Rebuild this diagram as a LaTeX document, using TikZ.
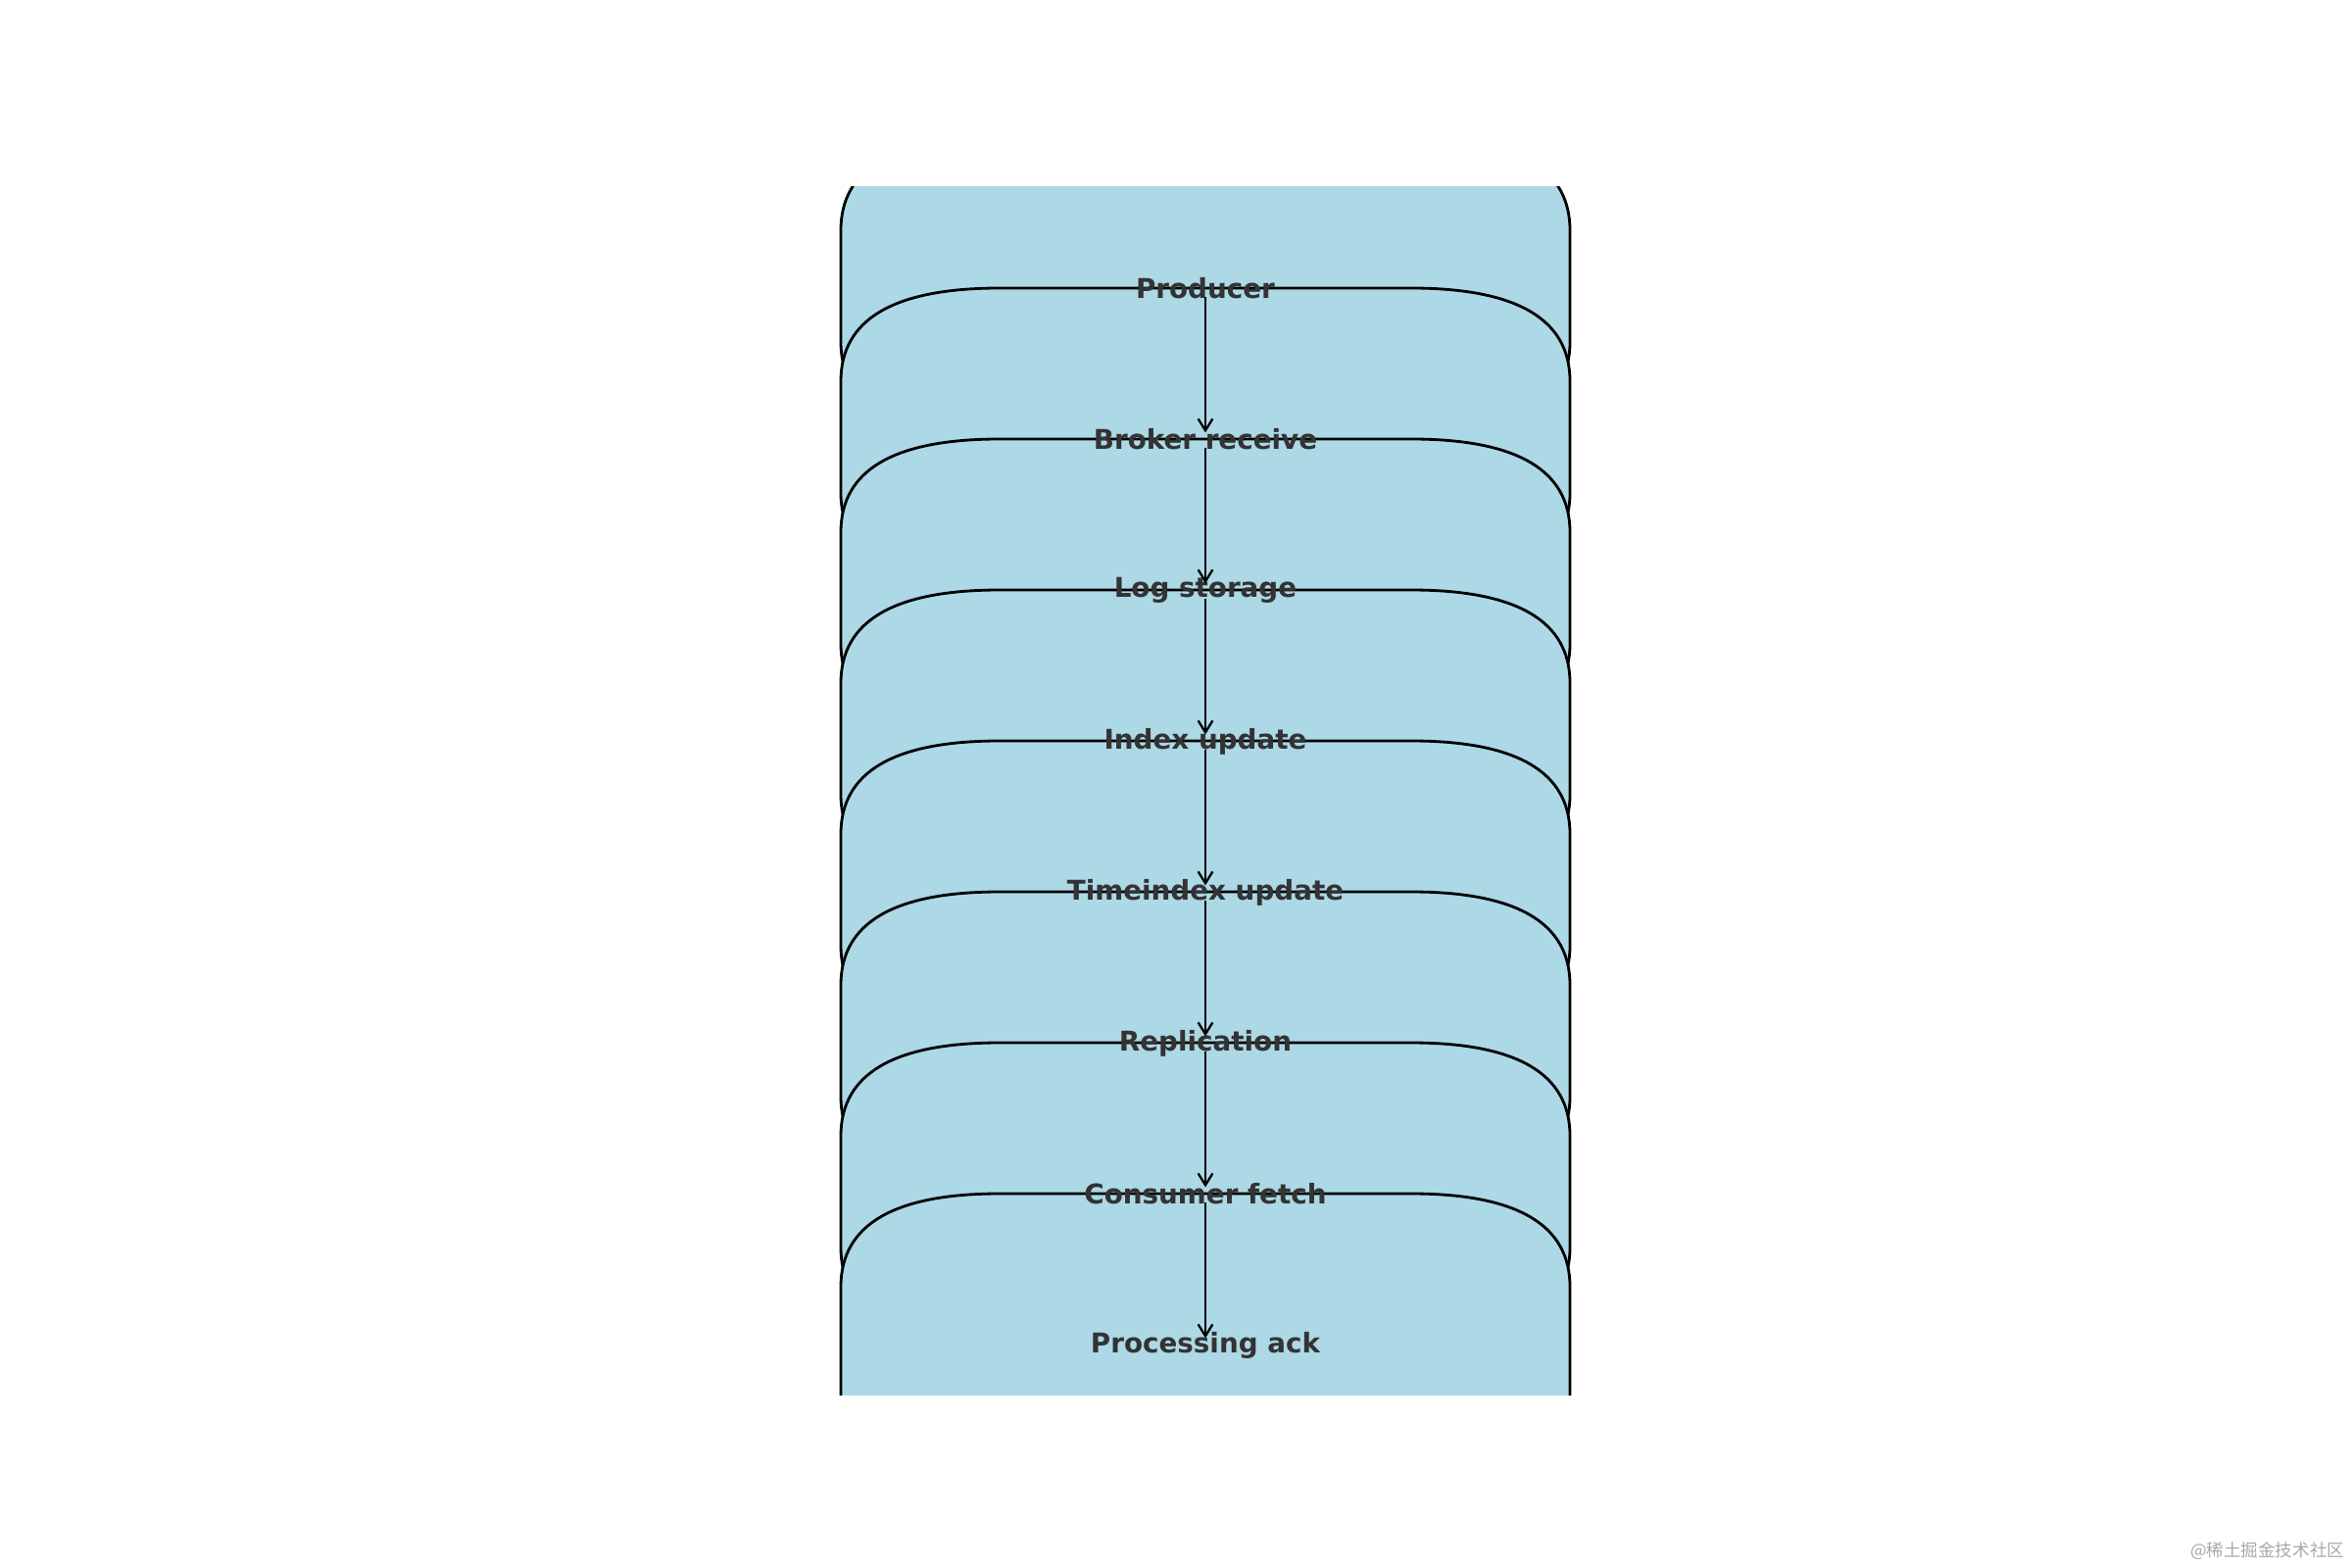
\documentclass[tikz,border=0pt]{standalone}
\usepackage{fontspec}
\setmainfont{DejaVu Sans}
\newfontfamily\cjkfont{Noto Sans CJK SC}
\usetikzlibrary{arrows.meta}
\pgfdeclarelayer{background}
\pgfsetlayers{background,main}
\definecolor{boxfill}{HTML}{ADD8E6}
\definecolor{labeltext}{HTML}{333333}
\definecolor{wmark}{HTML}{A8A8A8}
\begin{document}
\begin{tikzpicture}[x=0.01cm,y=-0.01cm,
  steplabel/.style={font=\fontsize{7.9}{9.5}\selectfont\bfseries, text=labeltext, inner sep=0pt},
  flowbox/.style={draw=black, line width=0.8pt, fill=boxfill},
  flowarrow/.style={draw=black, line width=0.65pt, -{Straight Barb[length=3.4pt,width=4.2pt]}, shorten <=2.3pt, shorten >=2pt}]
\useasboundingbox (0,0) rectangle (2400,1600);
\foreach \name/\txt [count=\i] in {producer/Producer, broker/Broker receive, logst/Log storage, index/Index update, timeidx/Timeindex update, repl/Replication, consumer/Consumer fetch, ack/Processing ack} {
  \node[steplabel] (\name) at (1230, {294.5+154*(\i-1)}) {\txt};
}
\begin{pgfonlayer}{background}
\begin{scope}
\clip (0,191) rectangle (2400,1423);
\foreach \name in {producer, broker, logst, index, timeidx, repl, consumer, ack} {
  \begin{scope}[shift={(\name.center)}, yshift=0.025cm]
  \path[flowbox] (-372,-57) .. controls (-372,-120.3) and (-318,-152) .. (-210,-152) -- (210,-152)
     .. controls (318,-152) and (372,-120.3) .. (372,-57) -- (372,57)
     .. controls (372,120.3) and (318,152) .. (210,152) -- (-210,152)
     .. controls (-318,152) and (-372,120.3) .. (-372,57) -- cycle;
  \end{scope}
}
\end{scope}
\end{pgfonlayer}
\foreach \a/\b in {producer/broker, broker/logst, logst/index, index/timeidx, timeidx/repl, repl/consumer, consumer/ack} {
  \draw[flowarrow] (\a.center) -- (\b.center);
}
\node[font=\cjkfont\fontsize{5}{6}\selectfont, text=wmark, anchor=east, inner sep=0pt] (watermark) at (2393,1583) {@稀土掘金技术社区};
\end{tikzpicture}
\end{document}
